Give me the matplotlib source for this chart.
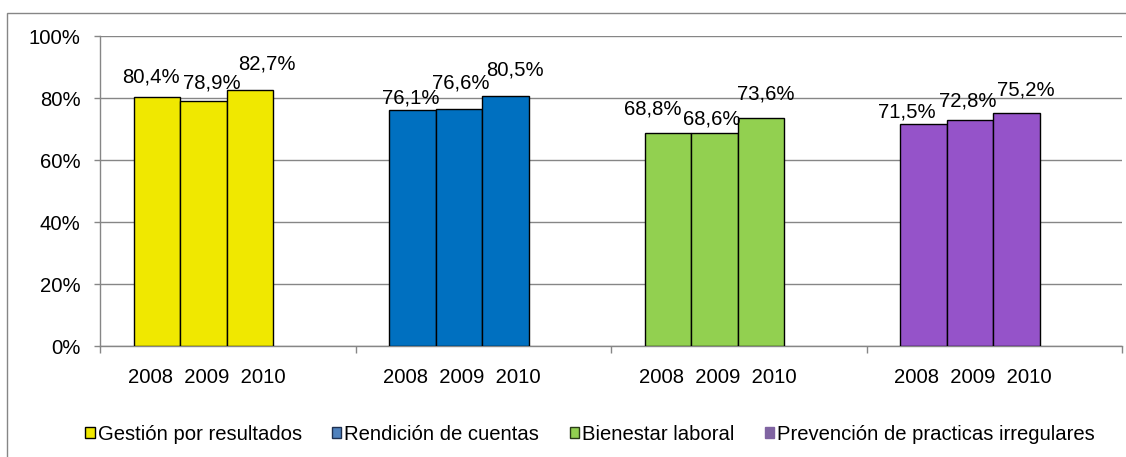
import matplotlib
matplotlib.use('Agg')
import matplotlib.pyplot as plt
from matplotlib.patches import Patch, Rectangle
from matplotlib.transforms import offset_copy

plt.rcParams['font.family'] = ['Liberation Sans', 'DejaVu Sans']

# data
categories = ['Gestión por resultados', 'Rendición de cuentas',
              'Bienestar laboral', 'Prevención de practicas irregulares']
years = ['2008', '2009', '2010']
gestion = [80.4, 78.9, 82.7]
rendicion = [76.1, 76.6, 80.5]
bienestar = [68.8, 68.6, 73.6]
prevencion = [71.5, 72.8, 75.2]
series = [gestion, rendicion, bienestar, prevencion]

bar_colors = ['#F0E800', '#0070C0', '#92D050', '#9553C9']
legend_faces = ['#F0E800', '#4F81BD', '#92D050', '#8064A2']
legend_edges = ['#000000', '#1F3050', '#2A3A18', '#8064A2']

# label nudges (pixels), Excel moved them to avoid overlaps
label_dx = [[-6, 8, 17], [-2, 2, 9], [-15, -3, 5], [-17, -2, 9]]
label_dy = [[14, 13, 20], [7, 20, 21], [18, 9, 18], [7, 14, 17]]

W, H = 1126, 457
fig = plt.figure(figsize=(W / 100, H / 100), dpi=100)
ax = fig.add_axes([100 / W, (H - 346) / H, (1122 - 100) / W, (346 - 36) / H])

grid_col = '#868686'
fs = 14.6
bw = 0.182
start = 0.133

for g, vals in enumerate(series):
    lefts = [g + start + j * bw for j in range(len(vals))]
    ax.bar(lefts, vals, width=bw, align='edge', color=bar_colors[g],
           edgecolor='black', linewidth=1.0, zorder=3)
    for j, v in enumerate(vals):
        tr = offset_copy(ax.transData, fig=fig, x=label_dx[g][j], y=label_dy[g][j], units='dots')
        ax.text(lefts[j] + bw / 2, v, f'{v:.1f}'.replace('.', ',') + '%',
                transform=tr, ha='center', va='baseline', fontsize=fs, zorder=4)

ax.set_xlim(0, 4)
ax.set_ylim(0, 100)
ax.set_yticks([0, 20, 40, 60, 80, 100])
ax.set_yticklabels([f'{t}%' for t in range(0, 101, 20)])
ax.yaxis.grid(True, color=grid_col, linewidth=1.0, zorder=0)
ax.tick_params(axis='y', length=4, width=1, color=grid_col, pad=10, labelsize=fs)

# group separators as major ticks, year labels as minor ticks
ax.set_xticks([0, 1, 2, 3, 4])
ax.set_xticklabels([])
ax.set_xticks([g + start + 1.5 * bw + 0.012 for g in range(4)], minor=True)
ax.set_xticklabels(['  '.join(years)] * 4, minor=True)
ax.tick_params(axis='x', which='major', length=5, width=1, color=grid_col, direction='out')
ax.tick_params(axis='x', which='minor', length=0, pad=16, labelsize=fs)

for s in ['top', 'right']:
    ax.spines[s].set_visible(False)
for s in ['left', 'bottom']:
    ax.spines[s].set_color(grid_col)
    ax.spines[s].set_linewidth(1.0)

handles = [Patch(facecolor=legend_faces[i], edgecolor=legend_edges[i], linewidth=1.0,
                 label=categories[i]) for i in range(4)]
fig.legend(handles=handles, loc='center', bbox_to_anchor=(590 / W, (H - 434) / H),
           ncol=4, frameon=False, fontsize=fs, handlelength=0.45, handleheight=0.45,
           handletextpad=0.15, columnspacing=1.5, borderpad=0, borderaxespad=0)

fig.patches.append(Rectangle((7 / W, -0.1), 1.2, (H - 13) / H + 0.1,
                             transform=fig.transFigure, fill=False,
                             edgecolor=grid_col, linewidth=1.0))

fig.savefig('out.png', dpi=100)
